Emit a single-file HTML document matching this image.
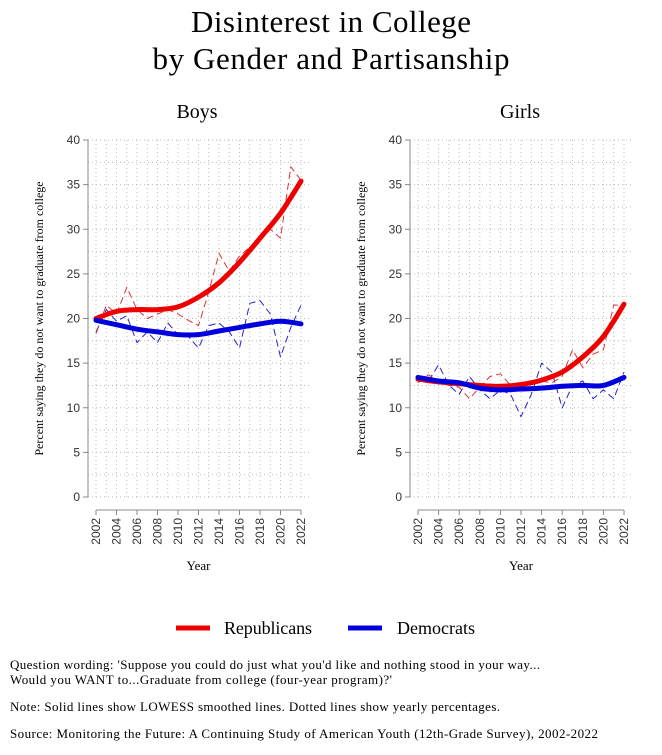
<!DOCTYPE html>
<html><head><meta charset="utf-8"><style>
html,body{margin:0;padding:0;background:#fff;}
body{width:662px;height:750px;overflow:hidden;font-family:"Liberation Serif",serif;}
</style></head><body>
<svg id="c" width="662" height="750" xmlns="http://www.w3.org/2000/svg" font-family="Liberation Serif, serif">
<text x="331" y="32" font-size="31" text-anchor="middle" textLength="280">Disinterest in College</text>
<text x="331" y="69" font-size="31" text-anchor="middle" textLength="357">by Gender and Partisanship</text>
<g>
<line x1="176" y1="628" x2="210" y2="628" stroke="#e00" stroke-width="5"/>
<text x="224" y="634" font-size="18" textLength="88">Republicans</text>
<line x1="348" y1="628" x2="382" y2="628" stroke="#00d" stroke-width="5"/>
<text x="397" y="634" font-size="18" textLength="78">Democrats</text>
</g>
<g font-size="13">
<text x="10" y="669" textLength="530">Question wording: 'Suppose you could do just what you'd like and nothing stood in your way...</text>
<text x="10" y="684" textLength="382">Would you WANT to...Graduate from college (four-year program)?'</text>
<text x="10" y="711" textLength="490">Note: Solid lines show LOWESS smoothed lines. Dotted lines show yearly percentages.</text>
<text x="10" y="738" textLength="588">Source: Monitoring the Future: A Continuing Study of American Youth (12th-Grade Survey), 2002-2022</text>
</g>
</svg>
<script>
const years=[2002,2003,2004,2005,2006,2007,2008,2009,2010,2011,2012,2013,2014,2015,2016,2017,2018,2019,2020,2021,2022];
const smoothYears=[2002,2004,2006,2008,2010,2012,2014,2016,2018,2020,2022];
const yTicks=[0,5,10,15,20,25,30,35,40];
const xTicks=[2002,2004,2006,2008,2010,2012,2014,2016,2018,2020,2022];
const boysRep=[18.3,21.5,20.5,23.5,21,20,20.5,21,20.5,19.8,19.2,23,27.3,25.3,27,28,29,30,29,37,35.5];
const boysDem=[18.5,21,19.7,20.3,17.3,18.5,17.3,19.5,18.2,18,16.7,19.2,19.5,18.5,16.7,21.7,22,20.5,15.7,19,21.5];
const boysRepSmooth=[20,20.8,21,21,21.3,22.4,24,26.3,29,31.8,35.4];
const boysDemSmooth=[19.8,19.3,18.8,18.5,18.2,18.2,18.6,19,19.4,19.7,19.4];
const girlsRep=[12.8,13.7,13,12.5,12.3,11,12.3,13.5,13.8,12.5,12,13,13,12.8,13.5,16.5,14.5,16,16.5,21.5,21.5];
const girlsDem=[13.3,13,14.8,12.5,11.5,13.5,12,11,12,11.5,9,11.5,15,14,10,12.5,13,11,12,11,14];
const girlsRepSmooth=[13.2,12.9,12.7,12.5,12.4,12.6,13.1,14,15.7,18,21.6];
const girlsDemSmooth=[13.4,13,12.8,12.2,12,12.1,12.2,12.4,12.5,12.5,13.4];

const NS="http://www.w3.org/2000/svg";
const svg=document.getElementById('c');
function mk(tag,attrs,parent){const e=document.createElementNS(NS,tag);for(const k in attrs)e.setAttribute(k,attrs[k]);(parent||svg).appendChild(e);return e;}
function smoothPath(p){
  let d='M'+p[0][0].toFixed(1)+','+p[0][1].toFixed(1);
  for(let i=0;i<p.length-1;i++){
    const p0=p[i-1]||p[i],p1=p[i],p2=p[i+1],p3=p[i+2]||p[i+1];
    const c1=[p1[0]+(p2[0]-p0[0])/6,p1[1]+(p2[1]-p0[1])/6];
    const c2=[p2[0]-(p3[0]-p1[0])/6,p2[1]-(p3[1]-p1[1])/6];
    d+=' C'+c1.map(v=>v.toFixed(1)).join(',')+' '+c2.map(v=>v.toFixed(1)).join(',')+' '+p2.map(v=>v.toFixed(1)).join(',');
  }
  return d;
}
function panel(name,title,x0,x1,axisX,titleX,series){
  const g=mk('g',{});
  
  
  const yTop=140,yBot=497;
  const sx=v=>x0+(v-2002)/(2022-2002)*(x1-x0);
  const sy=v=>yBot-(v/40)*(yBot-yTop);
  for(let yr=2002;yr<=2022;yr++){const l=mk('line',{x1:sx(yr),x2:sx(yr),y1:sy(40),y2:sy(0),stroke:'#bbb','stroke-width':1,'stroke-dasharray':'1 3'},g);
  
  }
  for(let v=0;v<=40;v+=2.5){const l=mk('line',{x1:x0-8,x2:x1+8,y1:sy(v),y2:sy(v),stroke:'#bbb','stroke-width':1,'stroke-dasharray':'1 3'},g);
  
  }
  mk('line',{x1:axisX,x2:axisX,y1:sy(40),y2:sy(0),stroke:'#888'},g);
  yTicks.forEach(v=>{mk('line',{x1:axisX-5,x2:axisX,y1:sy(v),y2:sy(v),stroke:'#888'},g);
    const t=mk('text',{x:axisX-8,y:sy(v)+4,'font-size':12,'text-anchor':'end','font-family':'Liberation Sans, sans-serif',fill:'#333'},g);t.textContent=v;
    
    });
  const yt=mk('text',{x:0,y:0,'font-size':12,'text-anchor':'middle',transform:`translate(${axisX-45},${(yTop+yBot)/2}) rotate(-90)`},g);
  yt.textContent='Percent saying they do not want to graduate from college';
  
  
  const xa=510;
  mk('line',{x1:sx(2002),x2:sx(2022),y1:xa,y2:xa,stroke:'#888'},g);
  xTicks.forEach(v=>{mk('line',{x1:sx(v),x2:sx(v),y1:xa,y2:xa+5,stroke:'#888'},g);
    const t=mk('text',{x:0,y:0,'font-size':12,'text-anchor':'end','font-family':'Liberation Sans, sans-serif',fill:'#333',transform:`translate(${sx(v)+4},${xa+8}) rotate(-90)`},g);t.textContent=v;
    
    });
  const xt=mk('text',{x:(x0+x1)/2,y:570,'font-size':13,'text-anchor':'middle'},g);xt.textContent='Year';
  
  
  const tt=mk('text',{x:titleX,y:118,'font-size':20,'text-anchor':'middle'},g);tt.textContent=title;
  
  
  series.forEach(s=>{
    const pts=s.xs.map((yr,i)=>[sx(yr),sy(s.vals[i])]);
    let p;
    if(s.dash){
      p=mk('polyline',{points:pts.map(q=>q[0].toFixed(1)+','+q[1].toFixed(1)).join(' '),fill:'none',stroke:s.color,'stroke-width':s.w,'stroke-dasharray':s.dash,'stroke-linejoin':'round'},g);
    } else {
      p=mk('path',{d:smoothPath(pts),fill:'none',stroke:s.color,'stroke-width':s.w,'stroke-linecap':'round'},g);
    }
    
    
  });
}
panel('boys','Boys',96,301,88,197,[
 {xs:years,vals:boysDem,color:'#22c',w:1,dash:'7 4',name:'boys-democrats-yearly'},
 {xs:years,vals:boysRep,color:'#d33',w:1,dash:'7 4',name:'boys-republicans-yearly'},
 {xs:smoothYears,vals:boysRepSmooth,color:'#e00',w:5,name:'boys-republicans-smooth'},
 {xs:smoothYears,vals:boysDemSmooth,color:'#00d',w:5,name:'boys-democrats-smooth'}]);
panel('girls','Girls',418,624,410,520,[
 {xs:years,vals:girlsDem,color:'#22c',w:1,dash:'7 4',name:'girls-democrats-yearly'},
 {xs:years,vals:girlsRep,color:'#d33',w:1,dash:'7 4',name:'girls-republicans-yearly'},
 {xs:smoothYears,vals:girlsRepSmooth,color:'#e00',w:5,name:'girls-republicans-smooth'},
 {xs:smoothYears,vals:girlsDemSmooth,color:'#00d',w:5,name:'girls-democrats-smooth'}]);
</script>
</body></html>
